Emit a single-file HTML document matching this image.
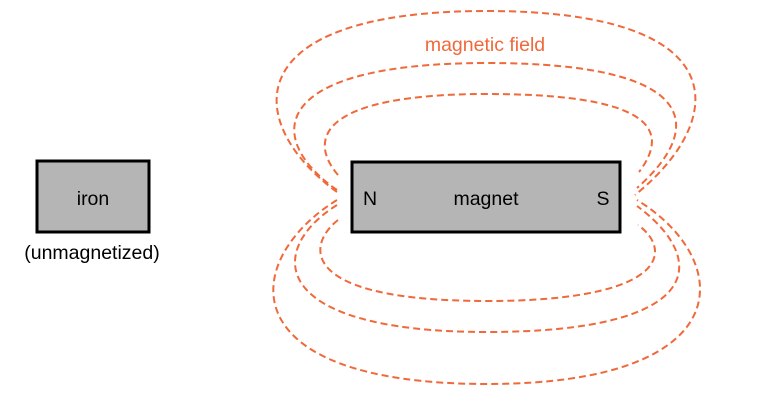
<!DOCTYPE html>
<html><head><style>body{margin:0;background:#fff}svg{display:block}</style></head><body>
<svg width="758" height="411" viewBox="0 0 758 411" xmlns="http://www.w3.org/2000/svg" font-family="Liberation Sans, Arial, sans-serif">
<g fill="none" stroke="#f0693a" stroke-width="2" stroke-dasharray="7,4">
<path d="M337,192 C245,125 232,11 487,11 C738,11 728,120 635,195"/>
<path d="M337,190 C265,140 265,63 487,63 C705,63 703,130 637,188"/>
<path d="M338,175 C308,140 318,94 487,94 C663,94 667,135 639,172"/>
<path d="M337,200 C240,260 228,384 487,384 C742,384 735,260 637,200"/>
<path d="M337,205 C265,250 268,332 487,332 C705,332 710,260 637,206"/>
<path d="M338,220 C306,245 298,301 487,301 C668,301 673,250 638,225"/>
</g>
<rect x="352" y="162" width="268" height="70" fill="#b5b5b5" stroke="#000" stroke-width="3"/>
<rect x="37" y="161" width="112" height="71" fill="#b5b5b5" stroke="#000" stroke-width="3"/>
<g font-size="19.5" fill="#000">
<text x="370" y="205" text-anchor="middle">N</text>
<text x="486" y="205" text-anchor="middle">magnet</text>
<text x="603" y="205" text-anchor="middle">S</text>
<text x="93" y="205" text-anchor="middle">iron</text>
<text x="92" y="259" text-anchor="middle">(unmagnetized)</text>
</g>
<text x="485" y="51" text-anchor="middle" font-size="19.5" fill="#f0693a">magnetic field</text>
</svg>
</body></html>
